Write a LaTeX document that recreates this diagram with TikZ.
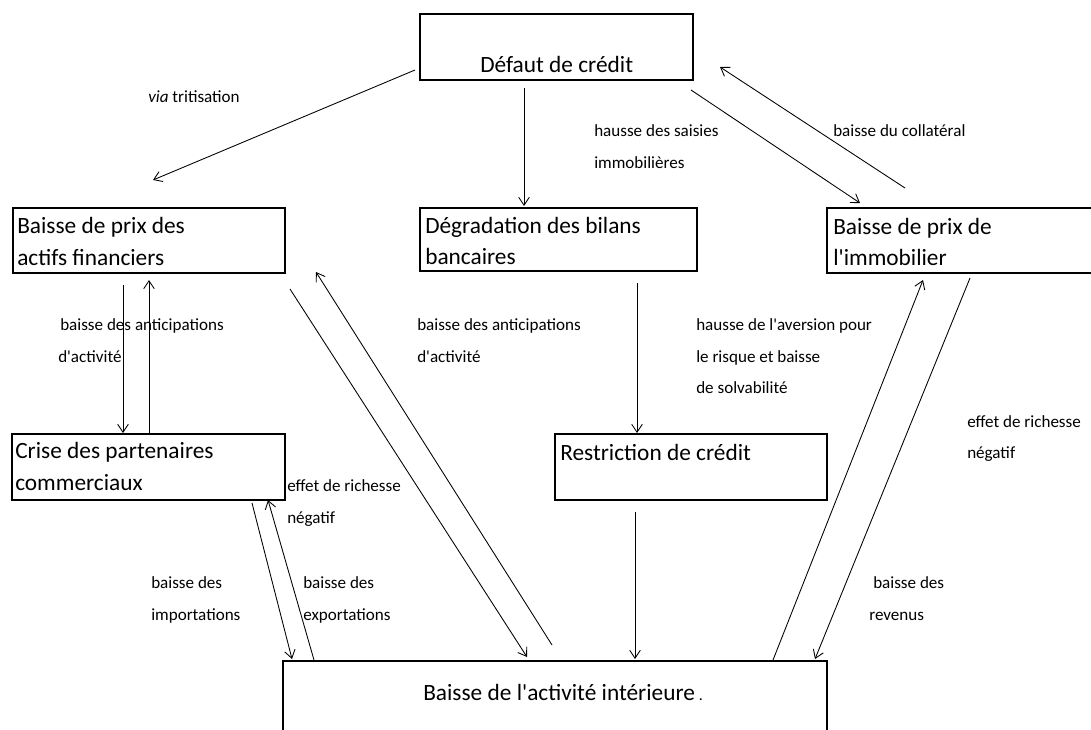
\documentclass[tikz,border=0pt]{standalone}
\usepackage{fontspec}
\setmainfont{Carlito}[Ligatures=TeXOff]
\usetikzlibrary{arrows.meta,fit}
\begin{document}
\begin{tikzpicture}[x=0.75pt,y=-0.75pt,
  box/.style={draw,line width=1.3pt,inner sep=0pt,outer sep=0pt},
  btext/.style={font=\fontsize{17.5}{24}\selectfont,inner sep=0pt,anchor=base west},
  lab/.style={font=\fontsize{12.8}{24}\selectfont,inner sep=0pt,anchor=base west},
  arr/.style={line width=0.65pt,-{Straight Barb[length=6pt,width=8pt,line width=0.65pt]}}]
\clip (0,0) rectangle (1091,729);
\fill[white] (0,0) rectangle (1091,729);

% boxes
\node[box,fit={(420,14)(693,80)}] (defaut) {};
\node[box,fit={(13,208)(285,273)}] (actifs) {};
\node[box,fit={(420,208)(697,271)}] (degr) {};
\node[box,fit={(827,208)(1110,273)}] (immo) {};
\node[box,fit={(12,434)(285,500)}] (crise) {};
\node[box,fit={(555,434)(827,500)}] (restr) {};
\node[box,fit={(283,661)(827,760)}] (activ) {};

% box texts
\node[btext] (defautT) at (480,72) {Défaut de crédit};
\node[btext] (actifsA) at (17,233) {Baisse de prix des};
\node[btext] (actifsB) at (17,265) {actifs financiers};
\node[btext] (degrA) at (425,233) {Dégradation des bilans};
\node[btext] (degrB) at (425,264) {bancaires};
\node[btext] (immoA) at (833,234) {Baisse de prix de};
\node[btext] (immoB) at (833,265) {l'immobilier};
\node[btext] (criseA) at (15,458) {Crise des partenaires};
\node[btext] (criseB) at (15,490) {commerciaux};
\node[btext] (restrT) at (560,460) {Restriction de crédit};
\node[btext] (activT) at (423,700) {Baisse de l'activité intérieure\,{\fontsize{12}{14}\selectfont.}};

% labels
\node[lab] (l1) at (148,102) {\textit{via} tritisation};
\node[lab] (l2a) at (594,136) {hausse des saisies};
\node[lab] (l2b) at (594,168) {immobilières};
\node[lab] (l3) at (833,136) {baisse du collatéral};
\node[lab] (l4a) at (60,330) {baisse des anticipations};
\node[lab] (l4b) at (58,362) {d'activité};
\node[lab] (l5a) at (417,330) {baisse des anticipations};
\node[lab] (l5b) at (417,362) {d'activité};
\node[lab] (l6a) at (696,330) {hausse de l'aversion pour};
\node[lab] (l6b) at (696,362) {le risque et baisse};
\node[lab] (l6c) at (696,393) {de solvabilité};
\node[lab] (l7a) at (967,427) {effet de richesse};
\node[lab] (l7b) at (967,458) {négatif};
\node[lab] (l8a) at (287,491) {effet de richesse};
\node[lab] (l8b) at (287,523) {négatif};
\node[lab] (l9a) at (151,588) {baisse des};
\node[lab] (l9b) at (151,620) {importations};
\node[lab] (l10a) at (303,588) {baisse des};
\node[lab] (l10b) at (303,620) {exportations};
\node[lab] (l11a) at (873,588) {baisse des};
\node[lab] (l11b) at (869,620) {revenus};

% connector ends
\coordinate (c1s) at (415,70);  \coordinate (c1e) at (153,180);
\coordinate (c2s) at (524,88);  \coordinate (c2e) at (524,206);
\coordinate (c3s) at (691,90);  \coordinate (c3e) at (860,203);
\coordinate (c4s) at (905,188); \coordinate (c4e) at (720,67);
\coordinate (c5s) at (123,285); \coordinate (c5e) at (123,433);
\coordinate (c6s) at (149,433); \coordinate (c6e) at (149,280);
\coordinate (c7s) at (290,289); \coordinate (c7e) at (527,657);
\coordinate (c8s) at (552,645); \coordinate (c8e) at (316,272);
\coordinate (c9s) at (637,283); \coordinate (c9e) at (637,433);
\coordinate (c10s) at (635,512); \coordinate (c10e) at (635,659);
\coordinate (c11s) at (252,503); \coordinate (c11e) at (292,659);
\coordinate (c12s) at (314,660); \coordinate (c12e) at (268,500);
\coordinate (c13s) at (773,660); \coordinate (c13e) at (923,280);
\coordinate (c14s) at (970,278); \coordinate (c14e) at (815,659);

\draw[arr] (c1s) -- (c1e);
\draw[arr] (c2s) -- (c2e);
\draw[arr] (c3s) -- (c3e);
\draw[arr] (c4s) -- (c4e);
\draw[arr] (c5s) -- (c5e);
\draw[arr] (c6s) -- (c6e);
\draw[arr] (c7s) -- (c7e);
\draw[arr] (c8s) -- (c8e);
\draw[arr] (c9s) -- (c9e);
\draw[arr] (c10s) -- (c10e);
\draw[arr] (c11s) -- (c11e);
\draw[arr] (c12s) -- (c12e);
\draw[arr] (c13s) -- (c13e);
\draw[arr] (c14s) -- (c14e);
\end{tikzpicture}
\end{document}
